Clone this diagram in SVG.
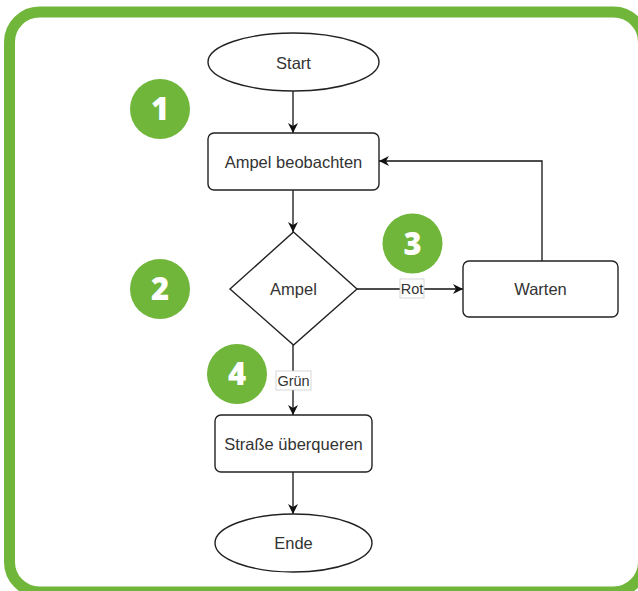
<svg xmlns="http://www.w3.org/2000/svg" width="638" height="591" viewBox="0 0 638 591">
  <style>
    .shape { fill: #ffffff; stroke: #222222; stroke-width: 1.4; }
    .label { font-family: "Liberation Sans", Arial, sans-serif; font-size: 16.5px; fill: #333333; text-anchor: middle; }
    .edge { fill: none; stroke: #111111; stroke-width: 1.3; marker-end: url(#arrow); }
    .edge-label-box { fill: #ffffff; stroke: #cccccc; stroke-width: 0.8; }
    .edge-label { font-family: "Liberation Sans", Arial, sans-serif; font-size: 14.5px; fill: #333333; text-anchor: middle; }
    .badge { fill: #70b63a; }
    .badge-num { font-family: "Open Sans", "Liberation Sans", sans-serif; font-weight: 800; font-size: 31px; fill: #ffffff; text-anchor: middle; }
  </style>
  <defs>
    <marker id="arrow" viewBox="0 0 10 10" refX="10" refY="5" markerWidth="10" markerHeight="10" markerUnits="userSpaceOnUse" orient="auto">
      <path d="M0,0 L10,5 L0,10 L3,5 Z" fill="#111111"/>
    </marker>
  </defs>

  <!-- frame -->
  <rect x="0" y="0" width="638" height="591" fill="#ffffff"/>
  <rect x="9.5" y="12" width="634" height="580" rx="30" ry="30" fill="#ffffff" stroke="#70b63a" stroke-width="11"/>

  <!-- connectors -->
  <g id="connectors">
    <line class="edge" x1="293" y1="91" x2="293" y2="133"/>
    <line class="edge" x1="293" y1="190" x2="293" y2="232"/>
    <line class="edge" x1="357" y1="289" x2="463" y2="289"/>
    <polyline class="edge" points="542,261 542,161 379,161"/>
    <line class="edge" x1="293" y1="345" x2="293" y2="415"/>
    <line class="edge" x1="293" y1="472" x2="293" y2="514"/>
    <g id="label-rot">
      <rect class="edge-label-box" x="400" y="279" width="24" height="19"/>
      <text class="edge-label" x="412" y="294">Rot</text>
    </g>
    <g id="label-gruen">
      <rect class="edge-label-box" x="276" y="371" width="35" height="19"/>
      <text class="edge-label" x="293.5" y="386">Grün</text>
    </g>
  </g>

  <!-- nodes -->
  <g id="start">
    <ellipse class="shape" cx="293.5" cy="62" rx="85.5" ry="29"/>
    <text class="label" x="293.5" y="68.5">Start</text>
  </g>
  <g id="ampel-beobachten">
    <rect class="shape" x="208" y="133" width="171" height="57" rx="6" ry="6"/>
    <text class="label" x="293.5" y="167.5">Ampel beobachten</text>
  </g>
  <g id="ampel">
    <polygon class="shape" points="293.5,232 357,289 293.5,345 230,289"/>
    <text class="label" x="293.5" y="295">Ampel</text>
  </g>
  <g id="warten">
    <rect class="shape" x="463" y="261" width="155" height="56" rx="6" ry="6"/>
    <text class="label" x="540.5" y="295">Warten</text>
  </g>
  <g id="strasse-ueberqueren">
    <rect class="shape" x="215" y="415" width="157" height="57" rx="6" ry="6"/>
    <text class="label" x="293.5" y="449.5">Straße überqueren</text>
  </g>
  <g id="ende">
    <ellipse class="shape" cx="293.5" cy="543" rx="78.5" ry="29"/>
    <text class="label" x="293.5" y="549">Ende</text>
  </g>

  <!-- step badges -->
  <g id="badge-1">
    <circle class="badge" cx="160" cy="109" r="30"/>
    <text class="badge-num" x="160" y="120">1</text>
  </g>
  <g id="badge-2">
    <circle class="badge" cx="160" cy="289" r="30"/>
    <text class="badge-num" x="160" y="300">2</text>
  </g>
  <g id="badge-3">
    <circle class="badge" cx="412.5" cy="243.5" r="30"/>
    <text class="badge-num" x="412.5" y="254.5">3</text>
  </g>
  <g id="badge-4">
    <circle class="badge" cx="237" cy="374" r="30"/>
    <text class="badge-num" x="237" y="385">4</text>
  </g>
</svg>
